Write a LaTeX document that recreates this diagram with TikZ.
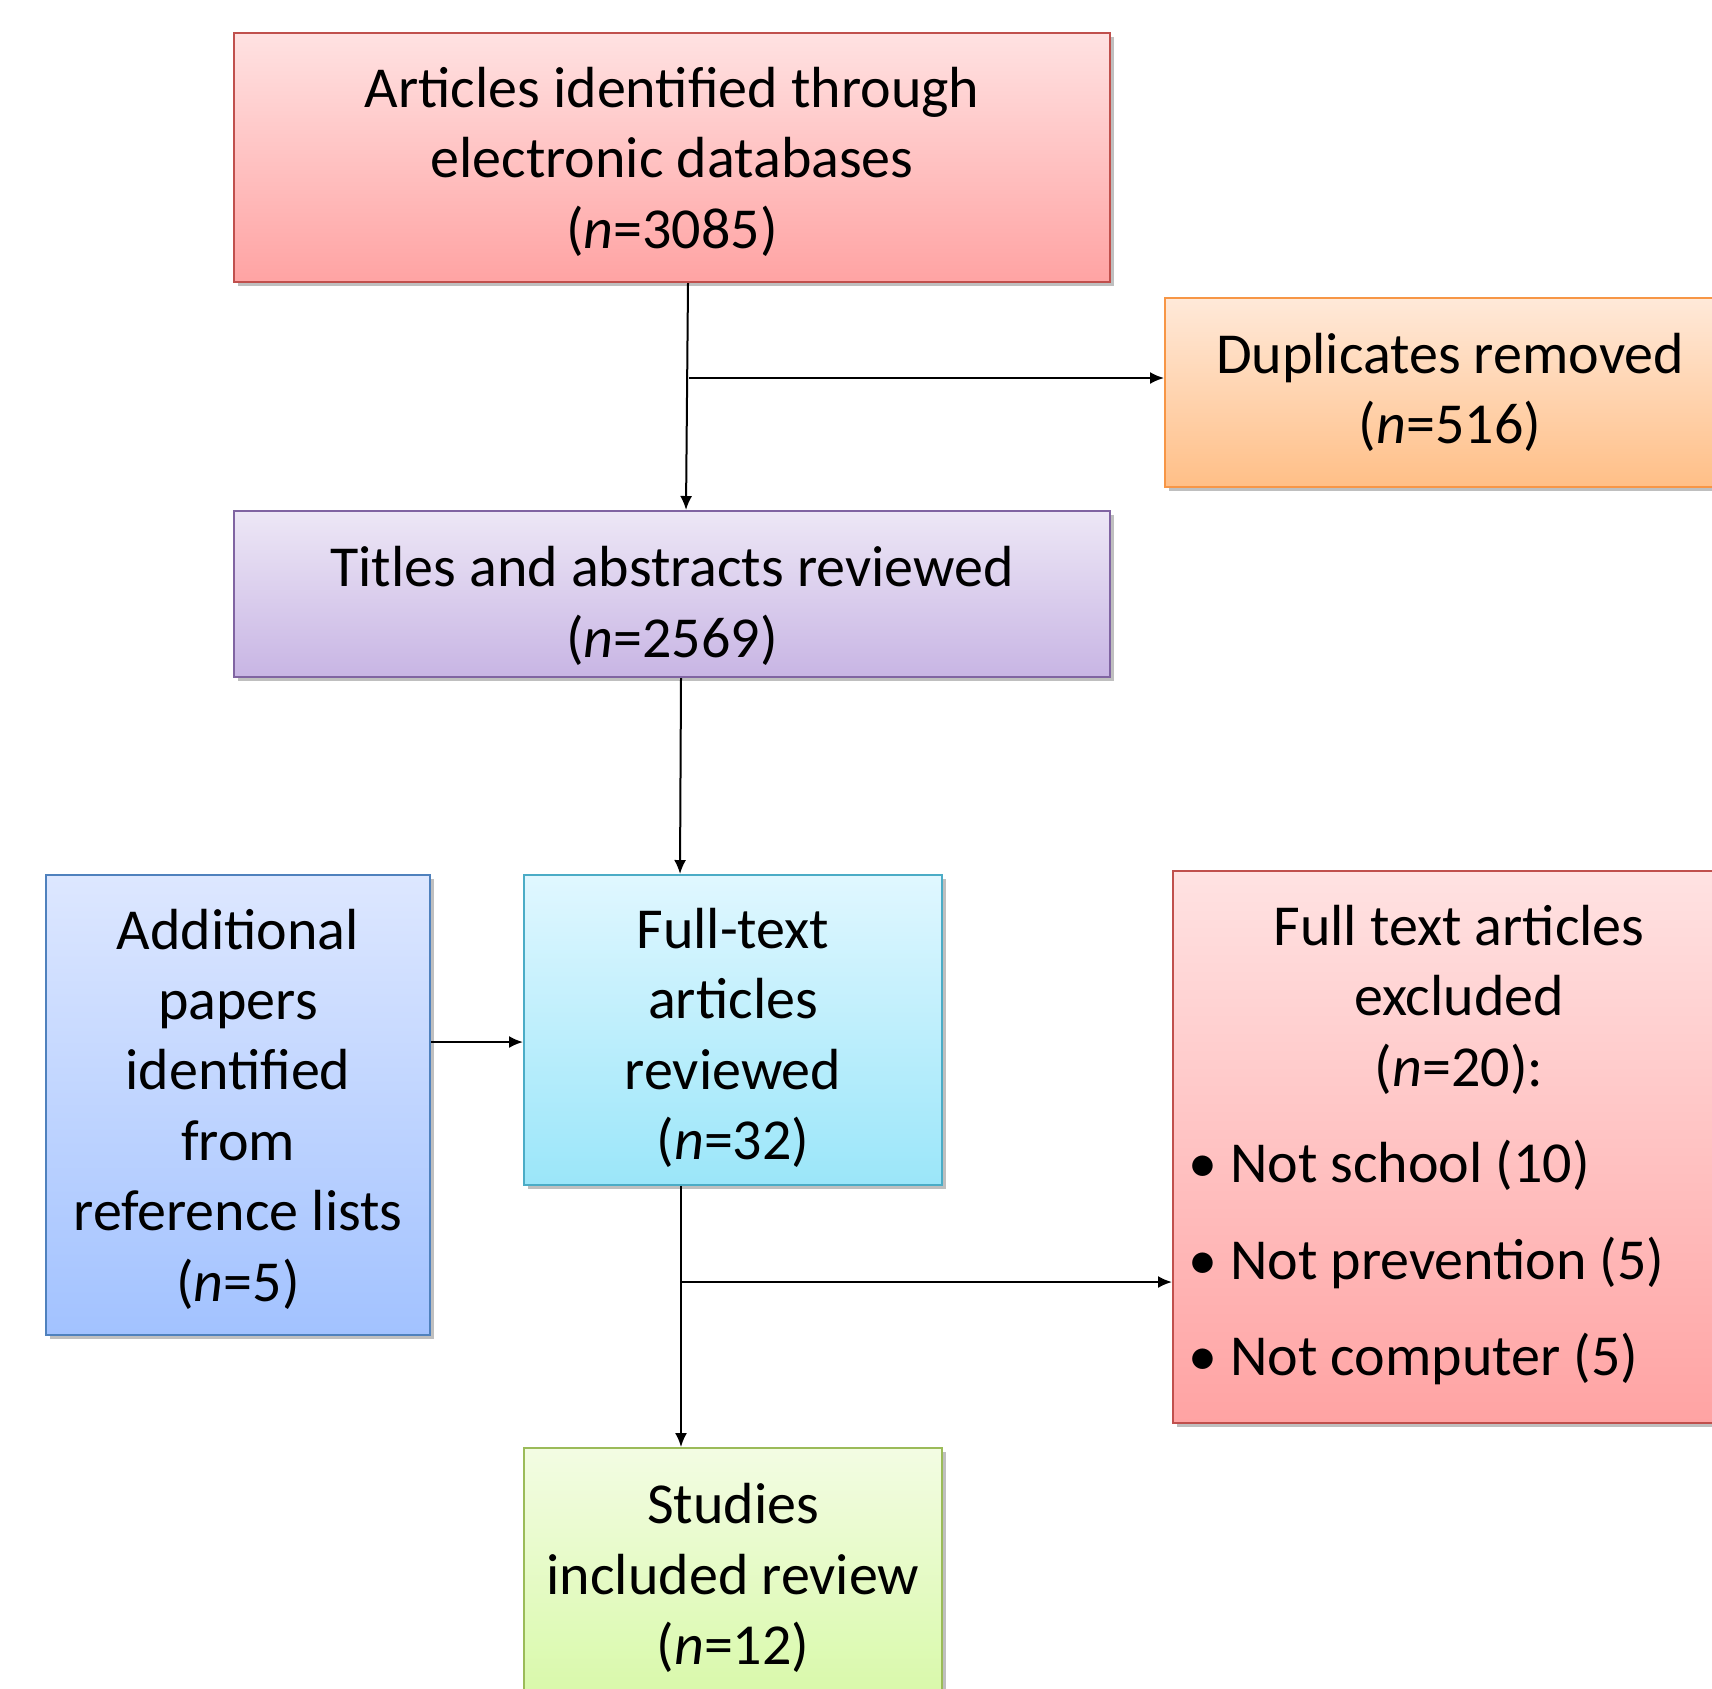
\documentclass[tikz,border=0pt]{standalone}
\usepackage{fontspec}
\setmainfont{Carlito}
\usetikzlibrary{arrows.meta,shadows}
\definecolor{redline}{HTML}{C0504D}
\definecolor{redtop}{HTML}{FFE2E2}
\definecolor{redbot}{HTML}{FFA3A3}
\definecolor{orgline}{HTML}{F79646}
\definecolor{orgtop}{HTML}{FFE9D9}
\definecolor{orgbot}{HTML}{FFBF87}
\definecolor{vioLine}{HTML}{8064A2}
\definecolor{viotop}{HTML}{EDE7F6}
\definecolor{viobot}{HTML}{C8B5E4}
\definecolor{bluLine}{HTML}{4F81BD}
\definecolor{blutop}{HTML}{DDE7FF}
\definecolor{blubot}{HTML}{A2C2FF}
\definecolor{aquLine}{HTML}{4BACC6}
\definecolor{aqutop}{HTML}{E0F7FF}
\definecolor{aqubot}{HTML}{9BE6F9}
\definecolor{grnLine}{HTML}{9BBB59}
\definecolor{grntop}{HTML}{F3FCE3}
\definecolor{grnbot}{HTML}{D8F9A9}
\tikzset{
  box/.style={draw, line width=1pt, inner sep=0pt,
    drop shadow={shadow xshift=2pt, shadow yshift=-2pt, opacity=0.25, fill=black}},
  redbox/.style={box, draw=redline, top color=redtop, bottom color=redbot},
  orgbox/.style={box, draw=orgline, top color=orgtop, bottom color=orgbot},
  viobox/.style={box, draw=vioLine, top color=viotop, bottom color=viobot},
  blubox/.style={box, draw=bluLine, top color=blutop, bottom color=blubot},
  aqubox/.style={box, draw=aquLine, top color=aqutop, bottom color=aqubot},
  grnbox/.style={box, draw=grnLine, top color=grntop, bottom color=grnbot},
  txt/.style={inner sep=0pt, align=center},
  arr/.style={-{Latex[length=7pt,width=6pt]}, line width=1pt},
}
\begin{document}
\begin{tikzpicture}[x=0.5pt,y=-0.5pt,font=\fontsize{29}{35.2}\selectfont]
\clip (0,0) rectangle (1712,1688);
\fill[white] (0,0) rectangle (1712,1688);
% boxes
\node[redbox, minimum width=438pt, minimum height=124.5pt] (art) at (672,157.5) {};
\node[orgbox, minimum width=285pt, minimum height=94.5pt] (dup) at (1450,392.5) {};
\node[viobox, minimum width=438pt, minimum height=83pt] (tit) at (672,594) {};
\node[blubox, minimum width=192pt, minimum height=230pt] (add) at (238,1105) {};
\node[aqubox, minimum width=209pt, minimum height=155pt] (ful) at (733,1030) {};
\node[redbox, minimum width=286pt, minimum height=276pt] (exc) at (1459,1147) {};
\node[grnbox, minimum width=209pt, minimum height=126pt] (stu) at (733,1574) {};
% texts
\node[txt] (artT) at ([yshift=-2pt]art) {Articles identified through\\electronic databases\\(\textit{n}=3085)};
\node[txt] (dupT) at (dup) {Duplicates removed\\(\textit{n}=516)};
\node[txt] (titT) at ([yshift=-6pt]tit) {Titles and abstracts reviewed\\(\textit{n}=2569)};
\node[txt] (addT) at ([yshift=-2pt]add) {Additional\\papers\\identified\\from\\reference lists\\(\textit{n}=5)};
\node[txt] (fulT) at ([yshift=-4pt]ful) {Full-text\\articles\\reviewed\\(\textit{n}=32)};
\node[inner sep=0pt, text width=271pt, align=none] (excT) at ([yshift=1pt]exc)
  {{\centering Full text articles\\excluded\\(\textit{n}=20):\par}
   \raggedright
   \vspace{13pt}\textbullet\ Not school (10)\par
   \vspace{13pt}\textbullet\ Not prevention (5)\par
   \vspace{13pt}\textbullet\ Not computer (5)\par};
\node[txt] (stuT) at ([yshift=-2pt]stu) {Studies\\included review\\(\textit{n}=12)};
% connectors
\coordinate (b1) at (689,378);
\coordinate (b2) at (681,1282);
\draw[arr] ([xshift=8pt]art.south) -- ([xshift=7pt]tit.north);
\draw[arr] (b1) -- (dup.west |- b1);
\draw[arr] ([xshift=4.5pt]tit.south) -- ([xshift=-26.5pt]ful.north);
\draw[arr] ([yshift=31.5pt]add.east) -- ([yshift=-6pt]ful.west);
\draw[arr] ([xshift=-26pt]ful.south) -- ([xshift=-26pt]stu.north);
\draw[arr] (b2) -- (exc.west |- b2);
\end{tikzpicture}
\end{document}
